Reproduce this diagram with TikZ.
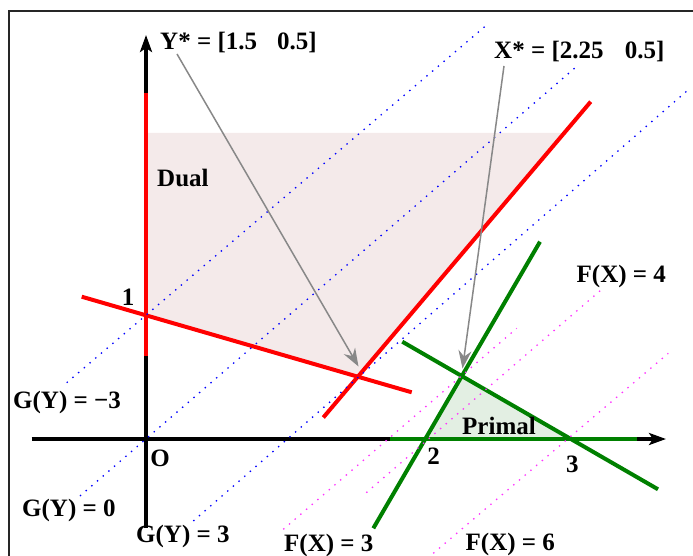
\documentclass[tikz,border=0pt]{standalone}
\usepackage{fontspec}
\setmainfont{Liberation Serif}
\usetikzlibrary{arrows.meta}
\definecolor{dualfill}{HTML}{F4EAEA}
\definecolor{primfill}{HTML}{E3EFE3}
\definecolor{dgreen}{HTML}{008000}
\definecolor{pmag}{HTML}{FF33FF}
\definecolor{ptrgray}{HTML}{888888}
\begin{document}
\begin{tikzpicture}[x=1pt,y=-1pt,
  lbl/.style={font=\fontsize{25}{28}\selectfont\bfseries, inner sep=0pt},
  axisline/.style={line width=3.5pt, -{Stealth[length=17pt,width=12pt,inset=4pt]}},
  redline/.style={red, line width=4pt},
  grnline/.style={dgreen, line width=4pt},
  gdot/.style={blue, line width=1.3pt, dash pattern=on 1.4pt off 6.1pt},
  fdot/.style={pmag, line width=1.3pt, dash pattern=on 1.4pt off 6.1pt},
  ptr/.style={ptrgray, line width=1.5pt, -{Stealth[length=18pt,width=13pt,inset=6pt]}}]
\useasboundingbox (0,0) rectangle (693,556);
\clip (0,0) rectangle (693,556);
% frame
\coordinate (frameA) at (9,11);
\coordinate (frameB) at (760,620);
\draw[line width=1.2pt, black!85] (frameA) rectangle (frameB);
% key points
\coordinate (O) at (146,439);
\coordinate (Ystar) at (358.5,376);
\coordinate (Xstar) at (461.3,376);
\coordinate (P2) at (424.5,439);
\coordinate (P3) at (569.5,439);
\coordinate (Dtl) at (148,133);
\coordinate (Dtr) at (564.5,133);
\coordinate (Dbl) at (148,315.3);
% shaded regions
\fill[dualfill] (Dtl) -- (Dtr) -- (Ystar) -- (Dbl) -- cycle;
\fill[primfill] (P2) -- (Xstar) -- (P3) -- cycle;
% axes
\coordinate (Ybot) at (146,528);
\coordinate (Ytop) at (146,35);
\coordinate (Xleft) at (31.7,439);
\coordinate (Xright) at (666,439);
\draw[axisline] (Ybot) -- (Ytop);
\draw[axisline] (Xleft) -- (Xright);
% red (dual) constraints
\coordinate (RVa) at (146,93);
\coordinate (RVb) at (146,356);
\coordinate (R1a) at (81.7,296.7);
\coordinate (R1b) at (411.7,392.3);
\coordinate (R2a) at (323.3,417.5);
\coordinate (R2b) at (590.7,101.7);
\draw[redline] (RVa) -- (RVb);
\draw[redline] (R1a) -- (R1b);
\draw[redline] (R2a) -- (R2b);
% green (primal) constraints
\coordinate (GAa) at (390,439);
\coordinate (GAb) at (636.7,439);
\coordinate (G1a) at (373.3,528.3);
\coordinate (G1b) at (540,241.7);
\coordinate (G2a) at (402.3,341.7);
\coordinate (G2b) at (658,489.3);
\draw[grnline] (GAa) -- (GAb);
\draw[grnline] (G1a) -- (G1b);
\draw[grnline] (G2a) -- (G2b);
% objective lines G(Y)
\coordinate (B1a) at (66.7,382.7);
\coordinate (B1b) at (484.7,26.7);
\coordinate (B2a) at (80,496);
\coordinate (B2b) at (576.3,66.7);
\coordinate (B3a) at (193.3,521);
\coordinate (B3b) at (688,90);
\draw[gdot] (B1a) -- (B1b);
\draw[gdot] (B2a) -- (B2b);
\draw[gdot] (B3a) -- (B3b);
% objective lines F(X)
\coordinate (M1a) at (283.3,529.3);
\coordinate (M1b) at (516.7,328.3);
\coordinate (M2a) at (366.3,492.7);
\coordinate (M2b) at (601,290);
\coordinate (M3a) at (433.3,553.3);
\coordinate (M3b) at (668.3,353.3);
\draw[fdot] (M1a) -- (M1b);
\draw[fdot] (M2a) -- (M2b);
\draw[fdot] (M3a) -- (M3b);
% labels
\node[lbl, anchor=west] (ystarlbl) at (160,43) {Y* = [1.5\hspace{0.8em}0.5]};
\node[lbl, anchor=west] (xstarlbl) at (494,52) {X* = [2.25\hspace{0.85em}0.5]};
\node[lbl, anchor=west] (duallbl) at (157,178) {Dual};
\node[lbl] (onelbl) at (128,297) {1};
\node[lbl, anchor=west] (gm3) at (13,402) {G(Y) = −3};
\node[lbl] (olbl) at (160,458) {O};
\node[lbl, anchor=west] (g0) at (22,510) {G(Y) = 0};
\node[lbl, anchor=west] (g3) at (136,536) {G(Y) = 3};
\node[lbl, anchor=west] (f3) at (284,545) {F(X) = 3};
\node[lbl, anchor=west] (primallbl) at (462,426) {Primal};
\node[lbl] (twolbl) at (433.7,456.5) {2};
\node[lbl] (threelbl) at (572.3,464) {3};
\node[lbl, anchor=west] (f6) at (465.5,544) {F(X) = 6};
\node[lbl, anchor=west] (f4) at (576.5,276.5) {F(X) = 4};
% pointers
\coordinate (ptrYs) at (177,54);
\coordinate (ptrYe) at (358.5,366.5);
\coordinate (ptrXs) at (504,66);
\coordinate (ptrXe) at (462.5,368.5);
\draw[ptr] (ptrYs) -- (ptrYe);
\draw[ptr] (ptrXs) -- (ptrXe);
\end{tikzpicture}
\end{document}
